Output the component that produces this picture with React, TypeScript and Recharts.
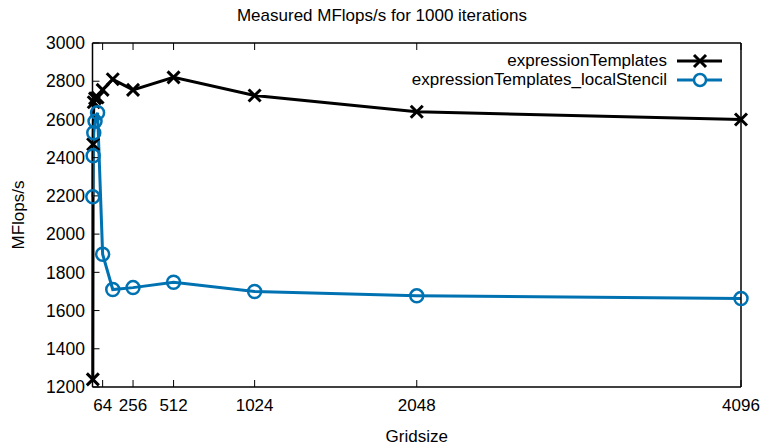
import React from 'react';
import { LineChart, Line, XAxis, YAxis } from 'recharts';

const gridSizes = [2, 4, 8, 16, 32, 64, 128, 256, 512, 1024, 2048, 4096];
const expressionTemplates = [1240, 2470, 2690, 2710, 2715, 2755, 2810, 2755, 2820, 2725, 2640, 2600];
const localStencil = [2195, 2410, 2530, 2590, 2635, 1895, 1710, 1720, 1748, 1700, 1677, 1663];
const xTicks = [64, 256, 512, 1024, 2048, 4096];
const yTicks = [1200, 1400, 1600, 1800, 2000, 2200, 2400, 2600, 2800, 3000];

const data = gridSizes.map((g, i) => ({
  size: g,
  et: expressionTemplates[i],
  ls: localStencil[i],
}));

const BLACK = '#000000';
const BLUE = '#0072b2';
const FONT = '"Liberation Sans", Arial, sans-serif';

const Cross = (props: any) => {
  const { cx, cy } = props;
  if (cx == null || cy == null) return null;
  const s = 6;
  return (
    <g stroke={BLACK} strokeWidth={3}>
      <line x1={cx - s} y1={cy - s} x2={cx + s} y2={cy + s} />
      <line x1={cx - s} y1={cy + s} x2={cx + s} y2={cy - s} />
    </g>
  );
};

const Ring = (props: any) => {
  const { cx, cy } = props;
  if (cx == null || cy == null) return null;
  return <circle cx={cx} cy={cy} r={6.5} fill="none" stroke={BLUE} strokeWidth={2.5} />;
};

const NoLabel = () => <g />;

const legendRows = [
  { name: 'expressionTemplates', color: BLACK, kind: 'x' },
  { name: 'expressionTemplates_localStencil', color: BLUE, kind: 'o' },
];

const LegendBox = () => (
  <div style={{ position: 'absolute', top: 51, right: 33, fontFamily: FONT, fontSize: 17, color: '#000' }}>
    {legendRows.map((r) => (
      <div key={r.name} style={{ display: 'flex', alignItems: 'center', justifyContent: 'flex-end', height: 19 }}>
        <span>{r.name}</span>
        <svg width={56} height={16} style={{ marginLeft: 8 }}>
          <line x1={2} y1={8} x2={47} y2={8} stroke={r.color} strokeWidth={3} />
          {r.kind === 'x' ? (
            <g stroke={r.color} strokeWidth={3}>
              <line x1={19} y1={2} x2={31} y2={14} />
              <line x1={19} y1={14} x2={31} y2={2} />
            </g>
          ) : (
            <circle cx={25} cy={8} r={6} fill="#fff" stroke={r.color} strokeWidth={2.5} />
          )}
        </svg>
      </div>
    ))}
  </div>
);

export default function App() {
  return (
    <div style={{ position: 'absolute', left: 0, top: 0, width: 764, height: 446, background: '#fff', fontFamily: FONT }}>
      <div style={{ position: 'absolute', top: 6, left: 0, width: 764, textAlign: 'center', fontSize: 17 }}>
        Measured MFlops/s for 1000 iterations
      </div>
      <LineChart
        width={764}
        height={446}
        data={data}
        margin={{ top: 42, right: 22, bottom: 0, left: 12 }}
      >
        <XAxis
          xAxisId="b"
          dataKey="size"
          type="number"
          domain={[0, 4096]}
          ticks={xTicks}
          tickSize={-7}
          tickMargin={19}
          tick={{ fill: '#000', fontSize: 17, fontFamily: FONT }}
          axisLine={{ stroke: BLACK, strokeWidth: 1.5 }}
          tickLine={{ stroke: BLACK }}
          height={59}
          label={{ value: 'Gridsize', position: 'insideBottom', offset: 4, fill: '#000', fontSize: 17, fontFamily: FONT }}
        />
        <XAxis
          xAxisId="t"
          orientation="top"
          dataKey="size"
          type="number"
          domain={[0, 4096]}
          ticks={xTicks}
          tickSize={-7}
          tick={NoLabel}
          axisLine={{ stroke: BLACK, strokeWidth: 1.5 }}
          tickLine={{ stroke: BLACK }}
          height={1}
        />
        <YAxis
          yAxisId="l"
          type="number"
          domain={[1200, 3000]}
          ticks={yTicks}
          tickSize={-7}
          tickMargin={14.5}
          width={80.5}
          tick={{ fill: '#000', fontSize: 17.5, fontFamily: FONT }}
          axisLine={{ stroke: BLACK, strokeWidth: 1.5 }}
          tickLine={{ stroke: BLACK }}
          label={{ value: 'MFlops/s', angle: -90, position: 'insideLeft', offset: 0, dx: 6, fill: '#000', fontSize: 17, fontFamily: FONT, style: { textAnchor: 'middle' } }}
        />
        <YAxis
          yAxisId="r"
          orientation="right"
          type="number"
          domain={[1200, 3000]}
          ticks={yTicks}
          tickSize={-7}
          width={1}
          tick={NoLabel}
          axisLine={{ stroke: BLACK, strokeWidth: 1.5 }}
          tickLine={{ stroke: BLACK }}
        />
        <Line
          xAxisId="b"
          yAxisId="l"
          dataKey="et"
          type="linear"
          stroke={BLACK}
          strokeWidth={3}
          dot={<Cross />}
          activeDot={false}
          isAnimationActive={false}
        />
        <Line
          xAxisId="b"
          yAxisId="l"
          dataKey="ls"
          type="linear"
          stroke={BLUE}
          strokeWidth={3}
          dot={<Ring />}
          activeDot={false}
          isAnimationActive={false}
        />
      </LineChart>
      <LegendBox />
    </div>
  );
}
